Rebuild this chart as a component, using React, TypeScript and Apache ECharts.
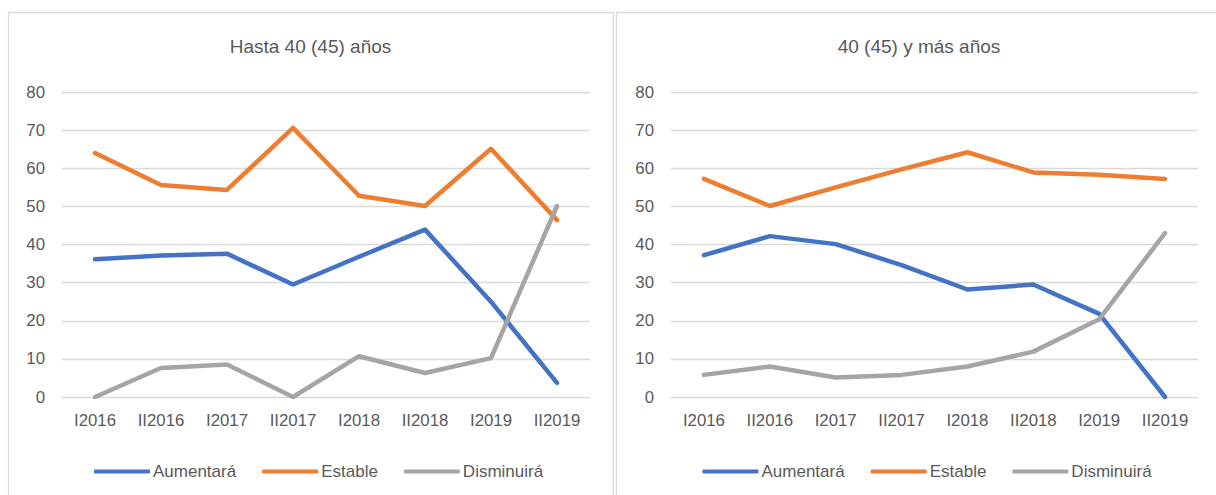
import React, { useEffect, useRef } from "react";
import * as echarts from "echarts";

const categories = ["I2016", "II2016", "I2017", "II2017", "I2018", "II2018", "I2019", "II2019"];
const seriesNames = ["Aumentará", "Estable", "Disminuirá"];
const colors = ["#4472C4", "#ED7D31", "#A5A5A5"];
const titles = ["Hasta 40 (45) años", "40 (45) y más años"];

// Hasta 40 (45) años
const leftAumentara = [36.1, 37.1, 37.6, 29.5, 36.8, 43.9, 25.0, 3.7];
const leftEstable = [64.0, 55.6, 54.3, 70.6, 52.8, 50.1, 65.1, 46.4];
const leftDisminuira = [0.0, 7.6, 8.5, 0.0, 10.7, 6.3, 10.2, 50.1];

// 40 (45) y más años
const rightAumentara = [37.2, 42.2, 40.1, 34.6, 28.2, 29.5, 21.8, 0.0];
const rightEstable = [57.2, 50.1, 55.0, 59.7, 64.2, 58.9, 58.3, 57.2];
const rightDisminuira = [5.8, 8.0, 5.1, 5.8, 8.0, 11.9, 20.4, 43.0];

const yTicks = { min: 0, max: 80, interval: 10 };

const FONT = "'Liberation Sans', Arial, sans-serif";
const TEXT = "#595959";
const GRID = "#D9D9D9";

export default function App() {
  const ref = useRef<HTMLDivElement>(null);

  useEffect(() => {
    if (!ref.current) return;
    const chart = echarts.init(ref.current, undefined, { renderer: "svg" });

    const panelOffset = 608.5;
    const grids = [
      { left: 62, right: 626, top: 92, bottom: 98 },
      { left: 671, right: 18, top: 92, bottom: 98 },
    ];

    const mkX = (i: number) => ({
      type: "category",
      gridIndex: i,
      data: categories,
      boundaryGap: true,
      axisLine: { show: true, lineStyle: { color: GRID, width: 1 } },
      axisTick: { show: false },
      axisLabel: { color: TEXT, fontFamily: FONT, fontSize: 16.8, margin: 15, interval: 0 },
      splitLine: { show: false },
    });
    const mkY = (i: number) => ({
      type: "value",
      gridIndex: i,
      min: yTicks.min,
      max: yTicks.max,
      interval: yTicks.interval,
      axisLine: { show: false },
      axisTick: { show: false },
      axisLabel: { color: TEXT, fontFamily: FONT, fontSize: 16.8, margin: 17 },
      splitLine: { show: true, lineStyle: { color: GRID, width: 1.3 } },
    });

    const data = [
      [leftAumentara, leftEstable, leftDisminuira],
      [rightAumentara, rightEstable, rightDisminuira],
    ];
    const series: any[] = [];
    data.forEach((panel, p) => {
      panel.forEach((vals, k) => {
        series.push({
          type: "line",
          name: seriesNames[k],
          xAxisIndex: p,
          yAxisIndex: p,
          data: vals,
          symbol: "none",
          showSymbol: false,
          color: colors[k],
          lineStyle: { color: colors[k], width: 4.5, cap: "round", join: "round" },
          z: 2 + k,
        });
      });
    });

    const mkLegend = (p: number) => ({
      left: 89 + p * panelOffset,
      top: 458,
      orient: "horizontal",
      data: seriesNames.map((n) => ({ name: n, icon: "roundRect" })),
      itemWidth: 56,
      itemHeight: 4,
      itemGap: 26,
      textStyle: { color: TEXT, fontFamily: FONT, fontSize: 17, padding: [0, 0, 0, -2] },
      selectedMode: false,
    });

    chart.setOption({
      animation: false,
      backgroundColor: "#ffffff",
      title: titles.map((t, p) => ({
        text: t,
        left: 310.5 + p * panelOffset,
        top: 37,
        padding: 0,
        textAlign: "center",
        textStyle: { color: TEXT, fontFamily: FONT, fontSize: 19, fontWeight: "normal" },
      })),
      graphic: [
        {
          type: "rect",
          shape: { x: 8.5, y: 12.5, width: 605, height: 520 },
          style: { fill: "none", stroke: GRID, lineWidth: 1.3 },
          silent: true,
        },
        {
          type: "rect",
          shape: { x: 616.5, y: 12.5, width: 606, height: 520 },
          style: { fill: "none", stroke: GRID, lineWidth: 1.3 },
          silent: true,
        },
      ],
      grid: grids,
      xAxis: [mkX(0), mkX(1)],
      yAxis: [mkY(0), mkY(1)],
      legend: [mkLegend(0), mkLegend(1)],
      series,
    });

    return () => chart.dispose();
  }, []);

  return (
    <div
      ref={ref}
      style={{ position: "fixed", left: 0, top: 0, width: 1216, height: 495, background: "#fff" }}
    />
  );
}
